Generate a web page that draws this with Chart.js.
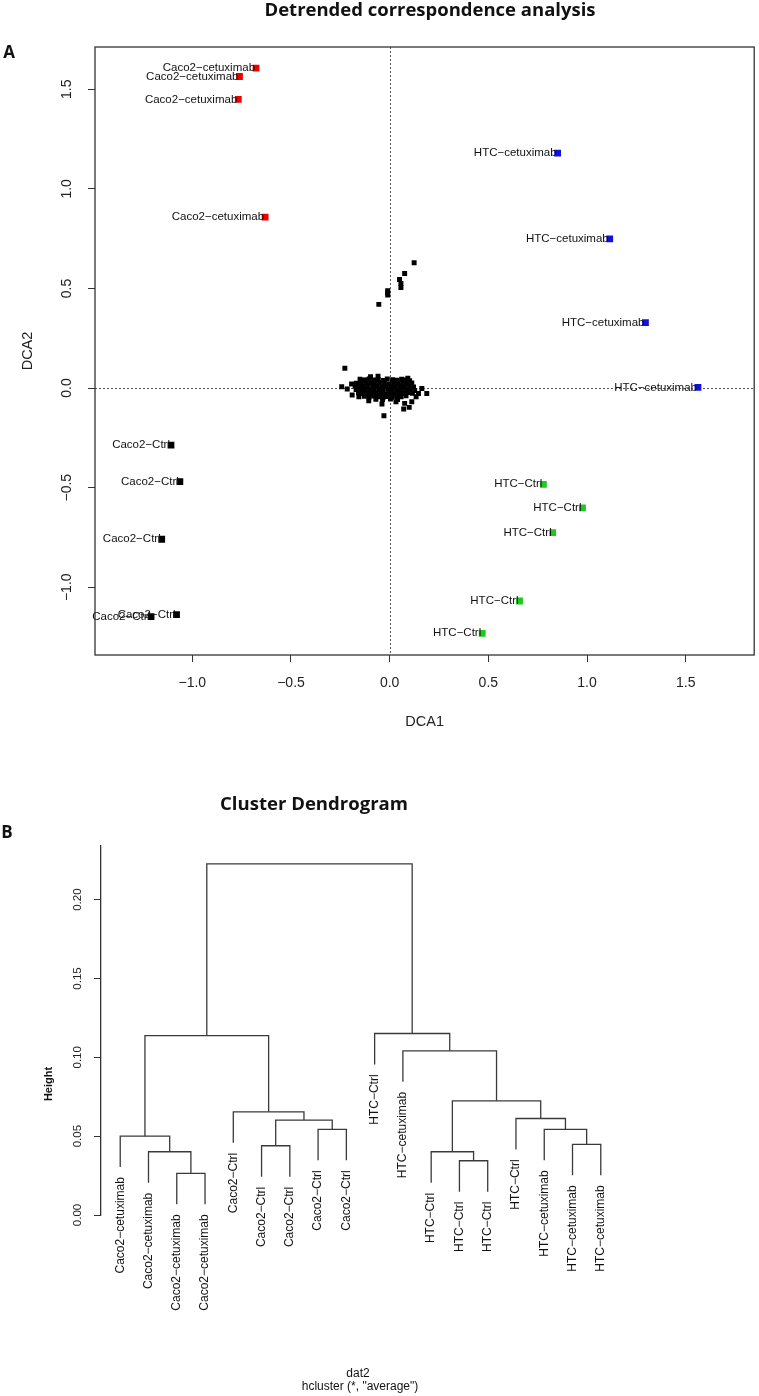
<!DOCTYPE html>
<html>
<head>
<meta charset="utf-8">
<script src="https://cdn.jsdelivr.net/npm/chart.js@4.4.0/dist/chart.umd.min.js"></script>
<style>
  body { margin: 0; background: #fff; }
  canvas { display: block; }
</style>
</head>
<body>
<canvas id="dca" width="759" height="760"></canvas>
<canvas id="dendro" width="759" height="636"></canvas>
<script>
// ---- panel A: DCA site scores (x = DCA1, y = DCA2)
const caco2Cetux = [[-0.677, 1.606], [-0.761, 1.564], [-0.767, 1.449], [-0.631, 0.858]];
const htcCetux = [[0.851, 1.179], [1.115, 0.749], [1.296, 0.328], [1.562, 0.003]];
const htcCtrl = [[0.779, -0.483], [0.977, -0.602], [0.826, -0.726], [0.658, -1.069], [0.469, -1.231]];
const caco2Ctrl = [[-1.108, -0.286], [-1.063, -0.470], [-1.155, -0.759], [-1.080, -1.137], [-1.209, -1.147]];

// species scores (the small black points)
const species = [
  [0.124, 0.629], [0.076, 0.575], [0.050, 0.545], [0.057, 0.525], [0.057, 0.505],
  [-0.010, 0.488], [-0.010, 0.478], [-0.010, 0.467], [-0.055, 0.420], [-0.227, 0.099],
  [-0.150, 0.044], [-0.128, 0.039], [-0.104, 0.046], [-0.080, 0.041], [-0.058, 0.043], [-0.031, 0.038],
  [-0.012, 0.045], [0.015, 0.042], [0.038, 0.039], [0.061, 0.044], [0.083, 0.041], [0.101, 0.037],
  [-0.168, 0.024], [-0.146, 0.027], [-0.121, 0.022], [-0.097, 0.026], [-0.075, 0.023], [-0.052, 0.028],
  [-0.027, 0.024], [-0.004, 0.021], [0.020, 0.026], [0.043, 0.023], [0.066, 0.027], [0.088, 0.022], [0.112, 0.025],
  [-0.175, 0.009], [-0.155, 0.006], [-0.133, 0.010], [-0.110, 0.007], [-0.086, 0.005], [-0.063, 0.009],
  [-0.040, 0.006], [-0.018, 0.010], [0.006, 0.007], [0.029, 0.004], [0.052, 0.009], [0.074, 0.006],
  [0.097, 0.010], [0.121, 0.005],
  [-0.170, -0.008], [-0.147, -0.011], [-0.124, -0.007], [-0.101, -0.010], [-0.079, -0.012], [-0.055, -0.008],
  [-0.033, -0.011], [-0.009, -0.006], [0.013, -0.010], [0.036, -0.013], [0.058, -0.008], [0.081, -0.011],
  [0.104, -0.007], [0.127, -0.012],
  [-0.158, -0.024], [-0.136, -0.028], [-0.112, -0.025], [-0.090, -0.029], [-0.067, -0.023], [-0.044, -0.027],
  [-0.021, -0.030], [0.002, -0.025], [0.024, -0.028], [0.047, -0.024], [0.069, -0.027], [0.092, -0.022], [0.115, -0.026],
  [-0.128, -0.041], [-0.104, -0.045], [-0.081, -0.040], [-0.057, -0.044], [-0.034, -0.047], [-0.011, -0.042],
  [0.012, -0.046], [0.035, -0.041], [0.058, -0.044], [0.083, -0.039],
  [-0.070, -0.056], [-0.036, -0.058], [0.004, -0.055], [0.040, -0.057],
  [-0.243, 0.007], [-0.215, -0.005], [-0.193, 0.020], [-0.190, -0.035], [-0.156, -0.044], [-0.106, -0.064],
  [-0.039, -0.080], [-0.029, -0.139], [0.032, -0.069], [0.076, -0.077], [0.071, -0.105], [0.099, -0.097],
  [0.112, -0.069], [0.134, -0.044], [0.146, -0.027], [0.163, -0.002], [0.188, -0.027],
  [-0.097, 0.057], [-0.059, 0.060], [0.092, 0.049], [-0.122, 0.040]
];

// ---- panel B: hclust result (R style merge table, leaves numbered in plot order)
const leafNames = [
  'Caco2\u2212cetuximab', 'Caco2\u2212cetuximab', 'Caco2\u2212cetuximab', 'Caco2\u2212cetuximab',
  'Caco2\u2212Ctrl', 'Caco2\u2212Ctrl', 'Caco2\u2212Ctrl', 'Caco2\u2212Ctrl', 'Caco2\u2212Ctrl',
  'HTC\u2212Ctrl', 'HTC\u2212cetuximab', 'HTC\u2212Ctrl', 'HTC\u2212Ctrl', 'HTC\u2212Ctrl', 'HTC\u2212Ctrl',
  'HTC\u2212cetuximab', 'HTC\u2212cetuximab', 'HTC\u2212cetuximab'
];
const mergeLeft = [-3, -13, -2, -12, -6, -17, -1, -8, -16, 5, -15, -5, 4, -11, 7, -10, 15];
const mergeRight = [-4, -14, 1, 2, -7, -18, 3, -9, 6, 8, 9, 10, 11, 13, 12, 14, 16];
const mergeHeight = [0.0264, 0.0344, 0.0401, 0.0401, 0.0439, 0.0448, 0.0500, 0.0543, 0.0543,
  0.0602, 0.0612, 0.0654, 0.0724, 0.1041, 0.1138, 0.1151, 0.2227];

const yTicks = [0, 0.05, 0.10, 0.15, 0.20];

Chart.defaults.font.family = '"Liberation Sans", Arial, sans-serif';
Chart.defaults.color = '#222';

const MINUS = '\u2212';
const fmt1 = v => v.toFixed(1).replace('-', MINUS);
const toPts = arr => arr.map(p => ({x: p[0], y: p[1]}));

function notes(id, items) {
  return {
    id: id,
    afterDraw(chart) {
      const ctx = chart.ctx;
      items.forEach(it => {
        ctx.save();
        ctx.font = it.font;
        ctx.fillStyle = '#111';
        ctx.textAlign = 'center';
        ctx.textBaseline = 'middle';
        ctx.translate(it.x, it.y);
        if (it.rotate) ctx.rotate(it.rotate);
        if (it.fitWidth) {
          const w = ctx.measureText(it.text).width;
          ctx.scale(it.fitWidth / w, 1);
        }
        ctx.fillText(it.text, 0, 0);
        ctx.restore();
      });
    }
  };
}

// box + dotted zero lines + sample labels
const dcaDecor = {
  id: 'dcaDecor',
  beforeDatasetsDraw(chart) {
    const {ctx, chartArea: a, scales: {x, y}} = chart;
    ctx.save();
    ctx.strokeStyle = '#555';
    ctx.lineWidth = 1;
    ctx.setLineDash([2, 2]);
    ctx.beginPath();
    const px = Math.round(x.getPixelForValue(0)) + 0.5;
    const py = Math.round(y.getPixelForValue(0)) + 0.5;
    ctx.moveTo(px, a.top); ctx.lineTo(px, a.bottom);
    ctx.moveTo(a.left, py); ctx.lineTo(a.right, py);
    ctx.stroke();
    ctx.restore();
  },
  afterDatasetsDraw(chart) {
    const {ctx, chartArea: a} = chart;
    ctx.save();
    ctx.font = '11.5px "Liberation Sans", Arial, sans-serif';
    ctx.fillStyle = '#111';
    ctx.textAlign = 'right';
    ctx.textBaseline = 'middle';
    chart.data.datasets.forEach((ds, i) => {
      if (!ds.pointLabel) return;
      chart.getDatasetMeta(i).data.forEach(pt => ctx.fillText(ds.pointLabel, pt.x - 1, pt.y));
    });
    ctx.strokeStyle = '#333';
    ctx.lineWidth = 1.3;
    ctx.strokeRect(a.left, a.top, a.right - a.left, a.bottom - a.top);
    ctx.restore();
  }
};

const tickFont = {size: 14};
new Chart(document.getElementById('dca'), {
  type: 'scatter',
  data: {
    datasets: [
      {data: toPts(species), pointBackgroundColor: '#000', pointBorderWidth: 0, pointStyle: 'rect', pointRadius: 3.5},
      {data: toPts(caco2Cetux), pointBackgroundColor: '#ee0000', pointBorderWidth: 0, pointStyle: 'rect', pointRadius: 4.8, pointLabel: 'Caco2\u2212cetuximab'},
      {data: toPts(htcCetux), pointBackgroundColor: '#1212d8', pointBorderWidth: 0, pointStyle: 'rect', pointRadius: 4.8, pointLabel: 'HTC\u2212cetuximab'},
      {data: toPts(htcCtrl), pointBackgroundColor: '#1fc81f', pointBorderWidth: 0, pointStyle: 'rect', pointRadius: 4.8, pointLabel: 'HTC\u2212Ctrl'},
      {data: toPts(caco2Ctrl), pointBackgroundColor: '#000', pointBorderWidth: 0, pointStyle: 'rect', pointRadius: 4.8, pointLabel: 'Caco2\u2212Ctrl'}
    ]
  },
  options: {
    responsive: false,
    animation: false,
    layout: {padding: {top: 47, right: 1, left: 0, bottom: 0}},
    plugins: {legend: {display: false}, tooltip: {enabled: false}},
    scales: {
      x: {
        type: 'linear', min: -1.493, max: 1.847,
        afterFit: s => { s.height = 105; },
        ticks: {stepSize: 0.5, includeBounds: false, padding: 13, font: tickFont, maxRotation: 0, callback: fmt1},
        grid: {drawOnChartArea: false, tickLength: 7, color: '#333'},
        border: {display: false},
        title: {display: true, text: 'DCA1', font: {size: 14.5}, padding: {top: 0, bottom: 29}}
      },
      y: {
        type: 'linear', min: -1.34, max: 1.712,
        afterFit: s => { s.width = 95; },
        ticks: {stepSize: 0.5, includeBounds: false, padding: 7, font: tickFont, minRotation: 90, maxRotation: 90, crossAlign: 'center', callback: fmt1},
        grid: {drawOnChartArea: false, tickLength: 7, color: '#333'},
        border: {display: false},
        title: {display: true, text: 'DCA2', font: {size: 14.5}, padding: {top: 19, bottom: 0}}
      }
    }
  },
  plugins: [dcaDecor, notes('dcaNotes', [
    {text: 'Detrended correspondence analysis', x: 430, y: 11, font: 'bold 17.5px "Open Sans", sans-serif', fitWidth: 331},
    {text: 'A', x: 9, y: 53, font: 'bold 17px "Open Sans", sans-serif'}
  ])]
});

// ---- dendrogram segments built from the merge table
const hang = 0.1 * (Math.max(...mergeHeight) - Math.min(...mergeHeight));
const nodeX = [];
const leafEnd = [];
const segs = [];
mergeHeight.forEach((h, k) => {
  const side = c => {
    if (c < 0) {
      leafEnd[-c - 1] = h - hang;
      return {x: -c, y: h - hang};
    }
    return {x: nodeX[c - 1], y: mergeHeight[c - 1]};
  };
  const l = side(mergeLeft[k]);
  const r = side(mergeRight[k]);
  nodeX[k] = (l.x + r.x) / 2;
  segs.push({
    data: [l, {x: l.x, y: h}, {x: r.x, y: h}, r],
    showLine: true, borderColor: '#3a3a3a', borderWidth: 1.3, pointRadius: 0, fill: false
  });
});

const leafLabels = {
  id: 'leafLabels',
  afterDatasetsDraw(chart) {
    const {ctx, scales: {x, y}} = chart;
    ctx.save();
    ctx.font = '12px "Liberation Sans", Arial, sans-serif';
    ctx.fillStyle = '#111';
    ctx.textAlign = 'right';
    ctx.textBaseline = 'middle';
    leafNames.forEach((name, i) => {
      ctx.save();
      ctx.translate(x.getPixelForValue(i + 1), y.getPixelForValue(leafEnd[i]) + 10);
      ctx.rotate(-Math.PI / 2);
      ctx.fillText(name, 0, 0);
      ctx.restore();
    });
    ctx.restore();
  }
};

new Chart(document.getElementById('dendro'), {
  type: 'scatter',
  data: {datasets: segs},
  options: {
    responsive: false,
    animation: false,
    layout: {padding: {top: 86, right: 139, left: 0, bottom: 181}},
    plugins: {legend: {display: false}, tooltip: {enabled: false}},
    scales: {
      x: {type: 'linear', min: 0.32, max: 18.68, display: false},
      y: {
        type: 'linear', min: 0, max: 0.234,
        afterFit: s => { s.width = 101; },
        afterBuildTicks: s => { s.ticks = yTicks.map(v => ({value: v})); },
        ticks: {padding: 5, font: {size: 11.5}, minRotation: 90, maxRotation: 90, crossAlign: 'center', callback: v => v.toFixed(2)},
        grid: {drawOnChartArea: false, tickLength: 7, color: '#333'},
        border: {display: true, color: '#333', width: 1.3}
      }
    }
  },
  plugins: [leafLabels, notes('dendroNotes', [
    {text: 'Cluster Dendrogram', x: 314, y: 45, font: 'bold 17.5px "Open Sans", sans-serif', fitWidth: 188},
    {text: 'B', x: 7, y: 73, font: 'bold 17px "Open Sans", sans-serif'},
    {text: 'Height', x: 49, y: 324, rotate: -Math.PI / 2, font: 'bold 11px "Liberation Sans", Arial, sans-serif'},
    {text: 'dat2', x: 358, y: 614, font: '12px "Liberation Sans", Arial, sans-serif'},
    {text: 'hcluster (*, "average")', x: 360, y: 627, font: '12px "Liberation Sans", Arial, sans-serif'}
  ])]
});
</script>
</body>
</html>
